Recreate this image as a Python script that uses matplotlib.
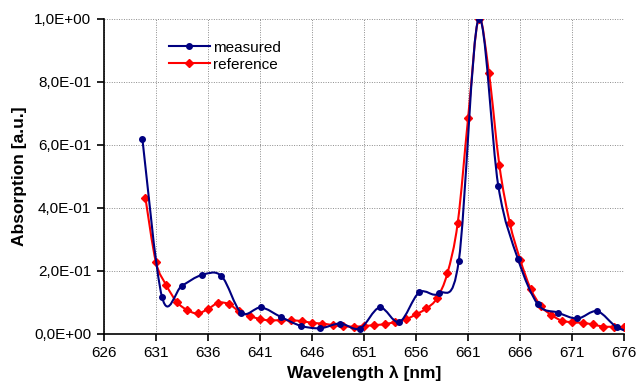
import numpy as np
import matplotlib
matplotlib.use("Agg")
import matplotlib.pyplot as plt
from matplotlib.path import Path
from matplotlib.patches import PathPatch
from matplotlib.ticker import FuncFormatter, MultipleLocator
from matplotlib.lines import Line2D

# measured spectrum
meas_wl = [629.7, 631.6, 633.5, 635.4, 637.3, 639.2, 641.1, 643.0, 644.9, 646.8,
           648.7, 650.6, 652.5, 654.4, 656.3, 658.2, 660.1, 662.0, 663.9, 665.8,
           667.7, 669.6, 671.5, 673.4, 675.3, 677.2]
meas_abs = [0.620, 0.115, 0.152, 0.186, 0.183, 0.066, 0.083, 0.053, 0.025, 0.017,
            0.032, 0.016, 0.083, 0.037, 0.131, 0.128, 0.231, 1.000, 0.469, 0.236,
            0.093, 0.067, 0.048, 0.071, 0.020, 0.000]

# reference spectrum
ref_wl = [630, 631, 632, 633, 634, 635, 636, 637, 638, 639, 640, 641, 642, 643,
          644, 645, 646, 647, 648, 649, 650, 651, 652, 653, 654, 655, 656, 657,
          658, 659, 660, 661, 662, 663, 664, 665, 666, 667, 668, 669, 670, 671,
          672, 673, 674, 675, 676]
ref_abs = [0.430, 0.228, 0.154, 0.101, 0.075, 0.064, 0.078, 0.098, 0.094, 0.071,
           0.057, 0.046, 0.042, 0.043, 0.042, 0.040, 0.034, 0.032, 0.027, 0.024,
           0.022, 0.024, 0.027, 0.030, 0.037, 0.045, 0.061, 0.080, 0.112, 0.191,
           0.352, 0.686, 1.000, 0.828, 0.535, 0.352, 0.235, 0.143, 0.087, 0.059,
           0.041, 0.036, 0.034, 0.029, 0.022, 0.022, 0.020]

x_ticks = [626, 631, 636, 641, 646, 651, 656, 661, 666, 671, 676]

plt.rcParams['font.family'] = ['Liberation Sans', 'DejaVu Sans']


def smooth_path(xs, ys):
    # excel-like smoothed line: cubic bezier segments through the points
    p = np.column_stack([xs, ys])
    verts = [p[0]]
    codes = [Path.MOVETO]
    n = len(p)
    for i in range(n - 1):
        p0 = p[i - 1] if i > 0 else p[i]
        p3 = p[i + 2] if i + 2 < n else p[i + 1]
        c1 = p[i] + (p[i + 1] - p0) / 6.0
        c2 = p[i + 1] - (p3 - p[i]) / 6.0
        verts += [c1, c2, p[i + 1]]
        codes += [Path.CURVE4] * 3
    return Path(verts, codes)


fig = plt.figure(figsize=(6.37, 3.87), dpi=100)
ax = fig.add_axes([0.163, 0.138, 0.817, 0.813])

navy = '#000080'
red = '#ff0000'

ax.add_patch(PathPatch(smooth_path(ref_wl, ref_abs), facecolor='none',
                       edgecolor=red, lw=1.5, zorder=3))
ax.plot(ref_wl, ref_abs, ls='none', marker='D', ms=3.8, color=red, zorder=3)
ax.add_patch(PathPatch(smooth_path(meas_wl, meas_abs), facecolor='none',
                       edgecolor=navy, lw=1.5, zorder=4))
ax.plot(meas_wl, meas_abs, ls='none', marker='o', ms=4, color=navy, zorder=4)

ax.set_xlim(626, 676)
ax.set_ylim(0, 1.0)
ax.set_xticks(x_ticks)
ax.yaxis.set_major_locator(MultipleLocator(0.2))
ax.yaxis.set_major_formatter(FuncFormatter(lambda v, pos: f"{v:.1E}".replace('.', ',')))

ax.grid(True, color='#8c8c8c', ls=(0, (1, 1.5)), lw=0.7)
ax.set_axisbelow(True)
for s in ['top', 'right']:
    ax.spines[s].set_visible(False)
for s in ['left', 'bottom']:
    ax.spines[s].set_linewidth(1.2)
ax.tick_params(direction='out', length=5, width=1.2, labelsize=11, pad=4)

ax.set_xlabel('Wavelength λ [nm]', fontsize=12.5, fontweight='bold', labelpad=4)
ax.set_ylabel('Absorption [a.u.]', fontsize=12.5, fontweight='bold', labelpad=5)

handles = [Line2D([], [], color=navy, marker='o', ms=4, lw=1.5),
           Line2D([], [], color=red, marker='D', ms=3.8, lw=1.5)]
ax.legend(handles, ['measured', 'reference'], loc='upper left',
          bbox_to_anchor=(0.104, 0.965), frameon=False, fontsize=11,
          handlelength=2.7, handletextpad=0.2, labelspacing=0.2,
          borderpad=0.2)

fig.savefig('out.png', dpi=100)
